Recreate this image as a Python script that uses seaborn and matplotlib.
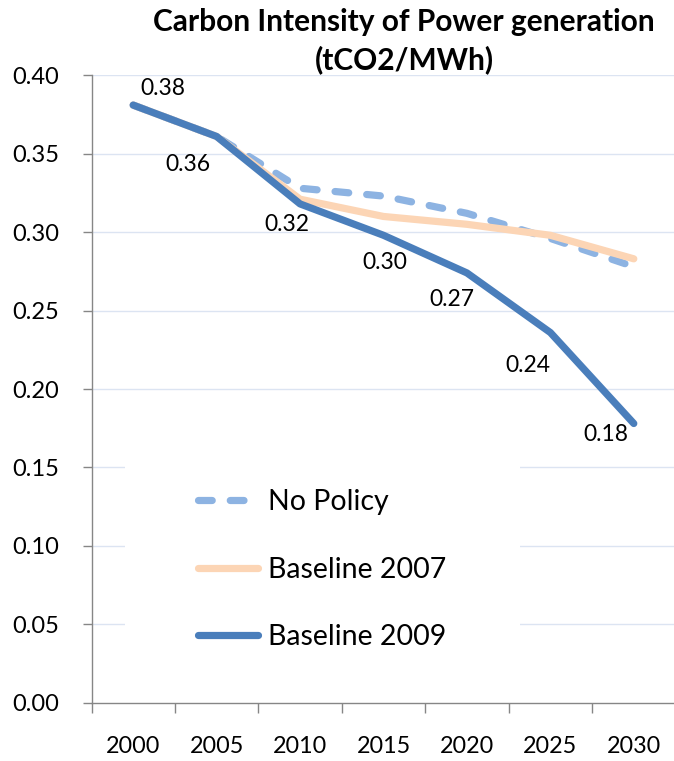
import matplotlib
matplotlib.use("Agg")
import matplotlib.pyplot as plt
from matplotlib.patches import Rectangle
from matplotlib.ticker import FixedLocator, NullFormatter, FixedFormatter
import seaborn as sns
import pandas as pd

# ---- data -------------------------------------------------------------
years = ["2000", "2005", "2010", "2015", "2020", "2025", "2030"]
no_policy = [0.381, 0.361, 0.328, 0.323, 0.312, 0.296, 0.278]
baseline_2007 = [0.381, 0.361, 0.321, 0.310, 0.305, 0.298, 0.283]
baseline_2009 = [0.381, 0.361, 0.318, 0.298, 0.274, 0.236, 0.178]
series_names = ["No Policy", "Baseline 2007", "Baseline 2009"]
y_ticks = [0.00, 0.05, 0.10, 0.15, 0.20, 0.25, 0.30, 0.35, 0.40]
title_lines = ["Carbon Intensity of Power generation", "(tCO2/MWh)"]

# ---- styling ----------------------------------------------------------
sns.set_theme(style="white")
plt.rcParams["font.family"] = ["Lato", "DejaVu Sans"]
plt.rcParams["text.color"] = "black"

colors = {"No Policy": "#8DB3E2", "Baseline 2007": "#FCD5B5", "Baseline 2009": "#4A7EBB"}
styles = {"No Policy": (0, (1.9, 2.5)), "Baseline 2007": "-", "Baseline 2009": "-"}
# label offsets in pixels (dx, dy) relative to each Baseline 2009 point
label_offsets = [(30, 17), (-29, -28), (-13, -21), (1, -27), (-15, -27), (-22, -33), (-28, -11)]

W, H = 674, 761
fig = plt.figure(figsize=(W / 100, H / 100), dpi=100)
ax_left, ax_right, ax_top, ax_bottom = 91.5, 675.5, 75.3, 702.7
ax = fig.add_axes([ax_left / W, 1 - ax_bottom / H, (ax_right - ax_left) / W, (ax_bottom - ax_top) / H])

df = pd.DataFrame({
    "pos": list(range(len(years))) * 3,
    "value": no_policy + baseline_2007 + baseline_2009,
    "series": sum([[s] * len(years) for s in series_names], []),
})

for name in series_names:
    sub = df[df["series"] == name]
    sns.lineplot(data=sub, x="pos", y="value", color=colors[name], linewidth=5.2,
                 linestyle=styles[name], label=name, ax=ax, sort=False, zorder=3)

for ln in ax.get_lines():
    ln.set_solid_capstyle("round")
    ln.set_dash_capstyle("round")
    ln.set_solid_joinstyle("round")
    ln.set_dash_joinstyle("round")

# data labels on the Baseline 2009 series
for i, v in enumerate(baseline_2009):
    dx, dy = label_offsets[i]
    ax.annotate(f"{v:.2f}", xy=(i, v), xytext=(dx, dy), textcoords="offset pixels",
                ha="center", va="center", fontsize=16.5, color="black", zorder=4)

# axes
ax.set_xlim(-0.5, len(years) - 0.5)
ax.set_ylim(0, 0.40)
ax.set_xlabel("")
ax.set_ylabel("")
ax.set_yticks(y_ticks)
ax.set_yticklabels([f"{t:.2f}" for t in y_ticks])
ax.xaxis.set_major_locator(FixedLocator([i - 0.5 for i in range(len(years) + 1)]))
ax.xaxis.set_major_formatter(NullFormatter())
ax.xaxis.set_minor_locator(FixedLocator(list(range(len(years)))))
ax.xaxis.set_minor_formatter(FixedFormatter(years))
ax.tick_params(axis="x", which="major", direction="out", length=7, width=1, color="#868686", bottom=True)
ax.tick_params(axis="x", which="minor", length=0, pad=24, labelsize=16.8, labelcolor="black", bottom=True)
ax.tick_params(axis="y", which="major", direction="out", length=6.5, width=1, color="#868686", pad=17,
               labelsize=17, labelcolor="black", left=True)

for s in ["top", "right"]:
    ax.spines[s].set_visible(False)
for s in ["left", "bottom"]:
    ax.spines[s].set_color("#868686")
    ax.spines[s].set_linewidth(1)

ax.set_axisbelow(True)
for t in y_ticks[1:]:
    ax.axhline(t, color="#DCE4F2", linewidth=1, zorder=0.5)

# white backing behind the legend
def px_to_axes(px, py):
    return ((px - ax_left) / (ax_right - ax_left), (ax_bottom - py) / (ax_bottom - ax_top))

x0, y0 = px_to_axes(124.5, 660)
x1, y1 = px_to_axes(520, 440)
ax.add_patch(Rectangle((x0, y0), x1 - x0, y1 - y0, transform=ax.transAxes,
                       facecolor="white", edgecolor="none", zorder=1))

leg = ax.legend(loc="upper left", bbox_to_anchor=(198 / W, 1 - 489 / H), bbox_transform=fig.transFigure,
                frameon=False, fontsize=20.5, handlelength=2.1, handletextpad=0.35,
                labelspacing=1.46, borderpad=0, borderaxespad=0)
for h in leg.legend_handles:
    h.set_solid_capstyle("round")
    h.set_dash_capstyle("round")
for t in leg.get_texts():
    t.set_color("black")

fig.text(404 / W, 1 - 22 / H, title_lines[0], ha="center", va="center", fontsize=21.5,
         fontweight="bold", color="black")
fig.text(404 / W, 1 - 60 / H, title_lines[1], ha="center", va="center", fontsize=21.5,
         fontweight="bold", color="black")

fig.savefig("out.png", dpi=100)
